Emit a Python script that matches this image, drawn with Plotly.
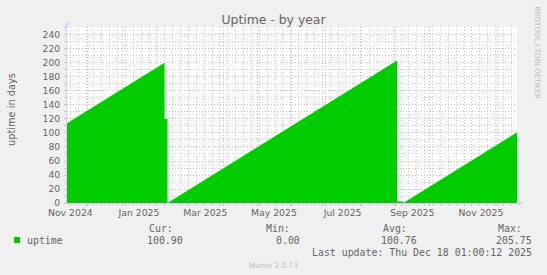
import plotly.graph_objects as go

# ---------------- data ----------------
dates = ["2024-11-13 01:00", "2025-02-07 17:00", "2025-02-07 17:00", "2025-02-10 09:00",
         "2025-02-10 09:00", "2025-09-02 12:00", "2025-09-02 12:00", "2025-09-07 22:00",
         "2025-09-07 22:00", "2025-12-18 01:00"]
uptime = [114, 200.5, 120, 120, 0, 203.5, 2, 2, 0, 100.9]

x_range = ["2024-11-13 01:00", "2025-12-18 01:00"]
y_range = [0, 251.4]

month_starts = ["2024-12-01", "2025-01-01", "2025-02-01", "2025-03-01", "2025-04-01",
                "2025-05-01", "2025-06-01", "2025-07-01", "2025-08-01", "2025-09-01",
                "2025-10-01", "2025-11-01", "2025-12-01"]
label_dates = ["2024-11-16", "2025-01-16", "2025-03-16", "2025-05-16",
               "2025-07-16", "2025-09-16", "2025-11-16"]
label_text = ["Nov 2024", "Jan 2025", "Mar 2025", "May 2025",
              "Jul 2025", "Sep 2025", "Nov 2025"]
y_ticks = [0, 20, 40, 60, 80, 100, 120, 140, 160, 180, 200, 220, 240]

legend_heads = ["Cur:", "Min:", "Avg:", "Max:"]
legend_vals = [100.90, 0.00, 100.76, 205.75]
series_name = "uptime"
last_update = "Last update: Thu Dec 18 01:00:12 2025"

# ---------------- styling ----------------
W, H = 547, 275
L, R, T, B = 67, 30, 27, 72
PW, PH = W - L - R, H - T - B
FONT = "#666666"
MGRID = "#eab2b2"
GRID = "#cccccc"
AXIS = "#CFD6F8"
GREEN = "#00cc00"
DASH = "1px,2px"


def px(x):
    return (x - L) / PW


def py(y):
    return (H - B - y) / PH


fig = go.Figure()
fig.add_trace(go.Scatter(x=dates, y=uptime, mode="lines",
                         line=dict(width=0, color=GREEN), fill="tozeroy",
                         fillcolor=GREEN, hoverinfo="skip", showlegend=False))
fig.add_trace(go.Scatter(x=dates, y=uptime, xaxis="x2", mode="lines",
                         line=dict(width=0), opacity=0, hoverinfo="skip",
                         showlegend=False))

annotations = [
    dict(text="uptime in days", x=px(11), y=py(110), textangle=-90,
         font=dict(family="DejaVu Sans", size=9.8, color=FONT)),
    dict(text="RRDTOOL / TOBI OETIKER", x=px(537.5), y=py(53), textangle=90,
         font=dict(family="DejaVu Sans", size=7.2, color="#bbbbbb")),
    dict(text=series_name, x=px(26), y=py(240), xanchor="left",
         font=dict(family="DejaVu Sans Mono", size=9.9, color=FONT)),
    dict(text=last_update, x=px(533), y=py(252.5), xanchor="right",
         font=dict(family="DejaVu Sans Mono", size=9.9, color=FONT)),
    dict(text="Munin 2.0.73", x=px(273), y=py(265),
         font=dict(family="DejaVu Sans", size=7.5, color="#c0c0c0")),
]
cols = [148, 265, 381.5, 497]
for cx, head, val in zip(cols, legend_heads, legend_vals):
    annotations.append(dict(text=head, x=px(cx), y=py(228), xanchor="left",
                            font=dict(family="DejaVu Sans Mono", size=9.9, color=FONT)))
    annotations.append(dict(text=f"{val:.2f}", x=px(cx + 36), y=py(240), xanchor="right",
                            font=dict(family="DejaVu Sans Mono", size=9.9, color=FONT)))
for a in annotations:
    a.update(xref="paper", yref="paper", showarrow=False, borderpad=0,
             yanchor=a.get("yanchor", "middle"), xanchor=a.get("xanchor", "center"))

# axis arrows
annotations.append(dict(text="", x=0, y=py(21.5), xref="paper", yref="paper",
                        showarrow=True, ax=0, ay=8, arrowhead=2, arrowsize=1,
                        arrowwidth=1, arrowcolor=AXIS))
annotations.append(dict(text="", x=px(523), y=0, xref="paper", yref="paper",
                        showarrow=True, ax=-8, ay=0, arrowhead=2, arrowsize=1,
                        arrowwidth=1, arrowcolor=AXIS))

fig.update_layout(
    width=W, height=H, autosize=False,
    margin=dict(l=L, r=R, t=T, b=B, pad=0),
    paper_bgcolor="#f0f0f0", plot_bgcolor="#ffffff",
    title=dict(text="Uptime - by year", x=0.5, xref="container", xanchor="center",
               y=1 - 19.5 / H, yref="container", yanchor="middle",
               font=dict(family="DejaVu Sans", size=12.4, color=FONT)),
    xaxis=dict(type="date", range=x_range, tickmode="array", tickvals=month_starts,
               showticklabels=False, showgrid=True, gridcolor=MGRID,
               griddash=DASH, gridwidth=1, ticks="outside", ticklen=2,
               tickcolor=MGRID,
               minor=dict(tickmode="linear", tick0="2024-11-16", dtick=7 * 86400000,
                          showgrid=True, gridcolor=GRID, griddash=DASH,
                          ticks="outside", ticklen=2, tickcolor=GRID),
               showline=True, linecolor=AXIS, linewidth=1, zeroline=False,
               fixedrange=True),
    xaxis2=dict(type="date", overlaying="x", matches="x", anchor="y", side="bottom",
                tickmode="array", tickvals=label_dates, ticktext=label_text,
                showgrid=False, ticks="", showline=False, zeroline=False,
                ticklabelstandoff=3,
                tickfont=dict(family="DejaVu Sans", size=9.3, color=FONT)),
    yaxis=dict(range=y_range, tickmode="array", tickvals=y_ticks,
               showgrid=True, gridcolor=MGRID, griddash=DASH,
               ticks="outside", ticklen=2, tickcolor=MGRID,
               minor=dict(tickmode="linear", tick0=0, dtick=10, showgrid=True,
                          gridcolor=GRID, griddash=DASH, ticks="outside",
                          ticklen=2, tickcolor=GRID),
               showline=True, linecolor=AXIS, linewidth=1, zeroline=False,
               ticklabelstandoff=2,
               tickfont=dict(family="DejaVu Sans", size=9.2, color=FONT),
               fixedrange=True),
    annotations=annotations,
    shapes=[dict(type="rect", xref="paper", yref="paper",
                 x0=px(14), x1=px(20), y0=py(243), y1=py(237),
                 fillcolor=GREEN, line=dict(width=0))],
)

fig.write_html("out.html")
